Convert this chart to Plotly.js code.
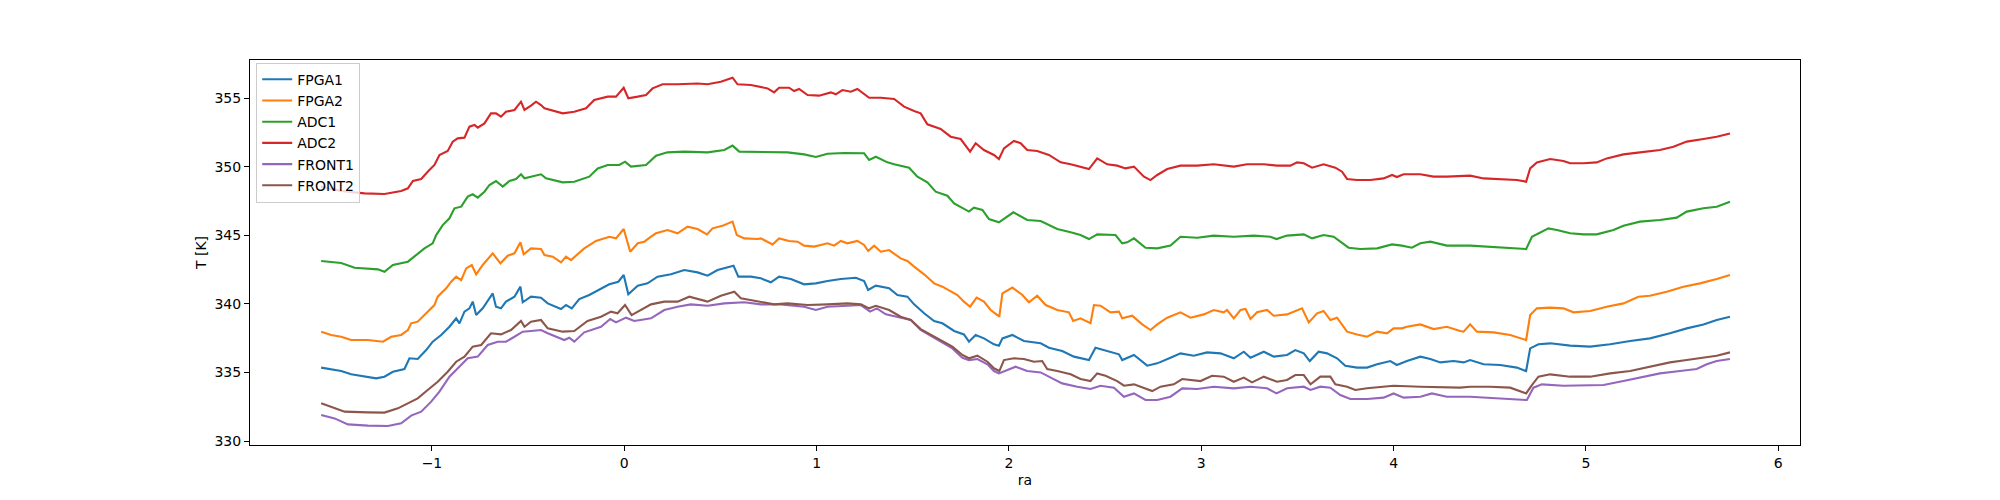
<!DOCTYPE html>
<html>
<head>
<meta charset="utf-8">
<script src="https://cdn.plot.ly/plotly-3.0.1.min.js"></script>
<style>html,body{margin:0;padding:0;background:#fff;}#chart{width:2000px;height:500px;}</style>
</head>
<body>
<div id="chart"></div>
<script>
// Series names and colours
const seriesNames = ["FPGA1", "FPGA2", "ADC1", "ADC2", "FRONT1", "FRONT2"];
const seriesColors = ["#1f77b4", "#ff7f0e", "#2ca02c", "#d62728", "#9467bd", "#8c564b"];

// [ra, T] pairs
const fpga1 = [[-1.576,335.35],[-1.524,335.25],[-1.472,335.10],[-1.420,334.86],[-1.350,334.69],[-1.290,334.57],[-1.247,334.69],[-1.203,335.05],[-1.143,335.25],[-1.117,336.03],[-1.074,335.98],[-1.030,336.63],[-0.996,337.24],[-0.952,337.73],[-0.909,338.33],[-0.874,338.94],[-0.857,338.58],[-0.831,339.43],[-0.805,339.67],[-0.788,340.16],[-0.770,339.18],[-0.736,339.67],[-0.684,340.76],[-0.667,339.79],[-0.641,339.67],[-0.615,340.16],[-0.571,340.52],[-0.540,341.25],[-0.528,340.11],[-0.485,340.52],[-0.433,340.45],[-0.398,340.03],[-0.329,339.62],[-0.303,339.91],[-0.273,339.67],[-0.234,340.35],[-0.182,340.64],[-0.130,341.01],[-0.078,341.42],[-0.031,341.61],[-0.003,342.10],[0.021,340.69],[0.070,341.32],[0.121,341.49],[0.173,341.98],[0.243,342.15],[0.312,342.46],[0.381,342.29],[0.433,342.05],[0.485,342.46],[0.568,342.78],[0.593,341.98],[0.658,341.98],[0.710,341.86],[0.762,341.57],[0.805,341.98],[0.866,341.81],[0.935,341.42],[0.996,341.49],[1.057,341.66],[1.126,341.81],[1.204,341.90],[1.247,341.66],[1.268,341.01],[1.308,341.32],[1.377,341.13],[1.420,340.64],[1.472,340.52],[1.507,339.96],[1.559,339.31],[1.611,338.75],[1.654,338.58],[1.715,338.02],[1.766,337.77],[1.792,337.24],[1.827,337.73],[1.870,337.48],[1.922,337.05],[1.948,336.95],[1.966,337.48],[2.018,337.73],[2.078,337.29],[2.165,337.12],[2.208,336.80],[2.277,336.56],[2.338,336.15],[2.416,335.90],[2.450,336.80],[2.520,336.51],[2.572,336.32],[2.589,335.90],[2.650,336.27],[2.719,335.49],[2.771,335.66],[2.840,336.07],[2.892,336.39],[2.961,336.22],[3.030,336.46],[3.100,336.39],[3.169,336.03],[3.221,336.51],[3.256,336.07],[3.325,336.51],[3.377,336.15],[3.446,336.27],[3.489,336.63],[3.533,336.39],[3.564,335.83],[3.610,336.51],[3.654,336.39],[3.706,336.03],[3.749,335.49],[3.810,335.35],[3.862,335.35],[3.914,335.59],[3.983,335.83],[4.017,335.54],[4.069,335.83],[4.139,336.15],[4.191,335.98],[4.243,335.73],[4.312,335.83],[4.364,335.73],[4.398,335.90],[4.468,335.59],[4.554,335.54],[4.641,335.35],[4.689,335.10],[4.710,336.75],[4.753,337.05],[4.814,337.12],[4.918,336.95],[5.022,336.88],[5.126,337.05],[5.230,337.29],[5.333,337.48],[5.437,337.85],[5.524,338.21],[5.611,338.50],[5.680,338.82],[5.749,339.06]];

const fpga2 = [[-1.576,337.97],[-1.524,337.73],[-1.472,337.60],[-1.420,337.36],[-1.333,337.36],[-1.255,337.24],[-1.212,337.60],[-1.160,337.73],[-1.125,338.09],[-1.108,338.58],[-1.074,338.70],[-1.030,339.31],[-0.987,339.91],[-0.970,340.52],[-0.926,341.13],[-0.900,341.61],[-0.874,341.98],[-0.848,341.73],[-0.822,342.58],[-0.793,342.83],[-0.770,342.15],[-0.736,342.83],[-0.684,343.68],[-0.644,342.95],[-0.606,343.51],[-0.571,343.68],[-0.540,344.48],[-0.523,343.61],[-0.485,344.04],[-0.433,343.99],[-0.415,343.56],[-0.372,343.44],[-0.329,343.02],[-0.303,343.44],[-0.277,343.19],[-0.208,344.04],[-0.147,344.58],[-0.078,344.89],[-0.043,344.77],[-0.003,345.45],[0.031,343.80],[0.070,344.41],[0.104,344.53],[0.139,344.89],[0.165,345.14],[0.225,345.38],[0.277,345.14],[0.329,345.62],[0.381,345.45],[0.430,345.06],[0.459,345.50],[0.511,345.69],[0.563,345.99],[0.585,345.01],[0.624,344.77],[0.693,344.72],[0.710,344.77],[0.771,344.33],[0.805,344.77],[0.857,344.58],[0.901,344.53],[0.935,344.24],[0.987,344.17],[1.057,344.41],[1.091,344.24],[1.126,344.58],[1.160,344.41],[1.212,344.58],[1.247,344.29],[1.268,343.85],[1.299,344.24],[1.334,343.80],[1.377,343.92],[1.437,343.31],[1.472,343.12],[1.507,342.71],[1.559,342.15],[1.611,341.49],[1.654,341.25],[1.732,340.64],[1.766,340.16],[1.798,339.79],[1.832,340.45],[1.870,340.16],[1.905,339.55],[1.940,339.18],[1.950,339.06],[1.966,340.76],[2.018,341.18],[2.070,340.64],[2.104,340.11],[2.147,340.59],[2.191,339.91],[2.251,339.55],[2.312,339.38],[2.334,338.75],[2.372,338.94],[2.424,338.58],[2.442,339.91],[2.476,339.86],[2.528,339.38],[2.572,339.43],[2.589,338.94],[2.641,339.13],[2.693,338.50],[2.736,338.09],[2.771,338.50],[2.823,338.99],[2.892,339.38],[2.944,338.99],[3.013,339.23],[3.065,339.55],[3.117,339.38],[3.134,339.55],[3.169,338.94],[3.204,339.55],[3.230,339.62],[3.256,338.89],[3.290,339.38],[3.342,339.55],[3.377,339.13],[3.446,339.23],[3.524,339.67],[3.559,338.65],[3.602,339.31],[3.636,339.48],[3.671,338.82],[3.706,338.99],[3.732,338.45],[3.758,337.97],[3.810,337.77],[3.862,337.60],[3.914,337.97],[3.966,337.85],[4.000,338.21],[4.043,338.21],[4.069,338.33],[4.139,338.50],[4.208,338.16],[4.277,338.33],[4.346,338.02],[4.364,337.97],[4.398,338.50],[4.433,337.97],[4.520,337.92],[4.606,337.73],[4.689,337.36],[4.710,339.18],[4.745,339.67],[4.814,339.72],[4.883,339.67],[4.935,339.38],[5.022,339.48],[5.108,339.79],[5.195,340.03],[5.273,340.52],[5.333,340.59],[5.420,340.88],[5.507,341.25],[5.593,341.49],[5.680,341.81],[5.749,342.10]];

const adc1 = [[-1.576,343.12],[-1.472,342.97],[-1.402,342.63],[-1.333,342.54],[-1.281,342.51],[-1.247,342.34],[-1.203,342.83],[-1.125,343.07],[-1.082,343.56],[-1.039,344.04],[-0.996,344.41],[-0.978,345.01],[-0.944,345.74],[-0.909,346.23],[-0.883,346.96],[-0.848,347.08],[-0.814,347.81],[-0.788,347.98],[-0.762,347.74],[-0.727,348.17],[-0.701,348.66],[-0.667,348.95],[-0.632,348.54],[-0.597,348.95],[-0.563,349.10],[-0.537,349.44],[-0.519,349.15],[-0.476,349.27],[-0.433,349.44],[-0.407,349.15],[-0.320,348.85],[-0.260,348.90],[-0.182,349.27],[-0.138,349.87],[-0.086,350.12],[-0.026,350.12],[0.004,350.36],[0.035,350.00],[0.113,350.12],[0.165,350.80],[0.225,351.04],[0.312,351.09],[0.381,351.09],[0.433,351.04],[0.520,351.21],[0.563,351.53],[0.598,351.09],[0.693,351.09],[0.849,351.04],[0.935,350.89],[0.996,350.70],[1.057,350.94],[1.143,350.99],[1.247,350.97],[1.273,350.48],[1.308,350.72],[1.368,350.31],[1.403,350.17],[1.481,349.92],[1.524,349.27],[1.576,348.85],[1.619,348.17],[1.680,347.88],[1.715,347.32],[1.749,347.08],[1.792,346.72],[1.818,347.01],[1.862,346.84],[1.896,346.18],[1.948,345.94],[2.023,346.67],[2.095,346.11],[2.165,346.04],[2.251,345.45],[2.321,345.21],[2.372,345.01],[2.416,344.72],[2.459,345.06],[2.554,345.01],[2.589,344.41],[2.615,344.48],[2.650,344.77],[2.710,344.09],[2.771,344.04],[2.840,344.24],[2.892,344.89],[2.979,344.82],[3.065,344.97],[3.169,344.89],[3.273,344.97],[3.359,344.89],[3.391,344.72],[3.446,344.97],[3.533,345.06],[3.576,344.77],[3.636,345.01],[3.688,344.89],[3.723,344.53],[3.766,344.09],[3.827,343.99],[3.914,344.04],[3.992,344.33],[4.043,344.24],[4.095,344.09],[4.139,344.41],[4.191,344.53],[4.277,344.24],[4.398,344.24],[4.502,344.16],[4.606,344.09],[4.689,343.99],[4.719,344.89],[4.753,345.14],[4.805,345.50],[4.849,345.38],[4.918,345.14],[4.987,345.06],[5.056,345.06],[5.143,345.38],[5.195,345.69],[5.281,345.99],[5.385,346.11],[5.472,346.28],[5.524,346.72],[5.611,346.96],[5.680,347.08],[5.749,347.44]];

const adc2 = [[-1.576,348.54],[-1.472,348.22],[-1.350,348.05],[-1.247,348.00],[-1.160,348.22],[-1.125,348.42],[-1.099,348.95],[-1.056,349.10],[-1.022,349.63],[-0.987,350.12],[-0.961,350.85],[-0.918,351.14],[-0.892,351.82],[-0.866,352.06],[-0.831,352.11],[-0.805,352.91],[-0.779,353.03],[-0.762,352.84],[-0.727,353.15],[-0.693,353.88],[-0.667,353.88],[-0.641,353.64],[-0.615,354.00],[-0.571,354.13],[-0.537,354.73],[-0.519,354.13],[-0.485,354.44],[-0.459,354.73],[-0.433,354.49],[-0.415,354.25],[-0.320,353.88],[-0.260,354.00],[-0.199,354.25],[-0.156,354.85],[-0.086,355.10],[-0.043,355.10],[-0.003,355.75],[0.021,354.98],[0.070,355.10],[0.113,355.22],[0.147,355.70],[0.199,356.00],[0.277,356.00],[0.381,356.06],[0.433,356.00],[0.502,356.19],[0.563,356.48],[0.589,356.00],[0.658,355.95],[0.710,355.83],[0.745,355.70],[0.779,355.41],[0.805,355.75],[0.857,355.75],[0.883,355.51],[0.909,355.66],[0.953,355.22],[1.013,355.17],[1.074,355.41],[1.100,355.27],[1.134,355.58],[1.178,355.46],[1.212,355.66],[1.273,355.02],[1.334,355.02],[1.403,354.93],[1.455,354.37],[1.507,354.05],[1.541,353.88],[1.576,353.08],[1.645,352.74],[1.697,352.18],[1.749,352.01],[1.798,351.09],[1.827,351.70],[1.870,351.21],[1.922,350.85],[1.948,350.55],[1.974,351.33],[2.026,351.87],[2.061,351.70],[2.095,351.21],[2.147,351.14],[2.208,350.85],[2.269,350.31],[2.321,350.17],[2.372,350.00],[2.416,349.82],[2.459,350.60],[2.511,350.17],[2.563,350.07],[2.606,349.87],[2.650,350.00],[2.702,349.27],[2.736,349.02],[2.771,349.39],[2.823,349.82],[2.892,350.07],[2.979,350.07],[3.065,350.17],[3.169,350.00],[3.238,350.17],[3.325,350.17],[3.394,350.07],[3.463,350.07],[3.498,350.31],[3.533,350.24],[3.576,349.92],[3.636,350.17],[3.697,349.92],[3.732,349.63],[3.758,349.10],[3.810,349.02],[3.879,349.02],[3.948,349.14],[3.992,349.39],[4.017,349.24],[4.052,349.44],[4.139,349.44],[4.208,349.27],[4.277,349.27],[4.398,349.34],[4.468,349.14],[4.572,349.10],[4.641,349.02],[4.689,348.90],[4.710,349.87],[4.745,350.31],[4.814,350.55],[4.883,350.41],[4.918,350.24],[4.987,350.24],[5.056,350.31],[5.108,350.60],[5.195,350.89],[5.281,351.04],[5.385,351.21],[5.455,351.45],[5.524,351.82],[5.611,352.01],[5.680,352.18],[5.749,352.42]];

const front1 = [[-1.576,331.90],[-1.506,331.65],[-1.437,331.21],[-1.333,331.12],[-1.229,331.09],[-1.160,331.29],[-1.108,331.85],[-1.056,332.14],[-1.004,332.87],[-0.961,333.60],[-0.909,334.69],[-0.866,335.30],[-0.814,336.03],[-0.762,336.15],[-0.710,337.00],[-0.658,337.24],[-0.615,337.24],[-0.571,337.60],[-0.528,337.97],[-0.485,338.02],[-0.433,338.09],[-0.398,337.85],[-0.312,337.36],[-0.286,337.53],[-0.260,337.24],[-0.208,337.92],[-0.121,338.33],[-0.073,338.89],[-0.043,338.65],[0.009,338.99],[0.052,338.75],[0.139,338.94],[0.208,339.55],[0.277,339.79],[0.346,339.96],[0.433,339.86],[0.520,340.03],[0.624,340.11],[0.710,339.96],[0.814,339.96],[0.935,339.79],[0.996,339.55],[1.057,339.79],[1.160,339.86],[1.230,339.91],[1.278,339.43],[1.313,339.67],[1.360,339.23],[1.437,338.99],[1.490,338.82],[1.541,338.09],[1.593,337.68],[1.645,337.24],[1.706,336.75],[1.758,336.07],[1.792,335.90],[1.836,335.98],[1.888,335.59],[1.922,335.10],[1.948,334.93],[1.992,335.17],[2.035,335.42],[2.095,335.10],[2.165,335.00],[2.225,334.57],[2.277,334.20],[2.355,333.96],[2.424,333.79],[2.476,334.03],[2.546,333.89],[2.598,333.23],[2.650,333.47],[2.710,332.99],[2.771,332.99],[2.840,333.23],[2.901,333.84],[2.979,333.79],[3.065,333.96],[3.169,333.84],[3.256,333.96],[3.342,333.84],[3.391,333.47],[3.446,333.84],[3.533,333.96],[3.568,333.72],[3.619,333.96],[3.671,333.89],[3.723,333.35],[3.775,333.06],[3.862,333.06],[3.948,333.16],[4.000,333.47],[4.052,333.16],[4.139,333.23],[4.199,333.47],[4.277,333.23],[4.398,333.23],[4.502,333.16],[4.606,333.06],[4.693,332.99],[4.727,333.89],[4.771,334.13],[4.883,334.03],[4.987,334.03],[5.091,334.08],[5.195,334.37],[5.299,334.69],[5.385,334.93],[5.489,335.10],[5.576,335.25],[5.628,335.59],[5.680,335.83],[5.749,335.98]];

const front2 = [[-1.576,332.75],[-1.506,332.43],[-1.454,332.14],[-1.333,332.09],[-1.247,332.07],[-1.177,332.38],[-1.125,332.75],[-1.074,333.11],[-1.022,333.72],[-0.970,334.32],[-0.918,335.05],[-0.874,335.78],[-0.831,336.15],[-0.788,336.88],[-0.744,337.00],[-0.693,337.85],[-0.641,337.77],[-0.589,338.09],[-0.537,338.75],[-0.519,338.33],[-0.485,338.70],[-0.433,338.82],[-0.398,338.21],[-0.320,337.97],[-0.260,338.02],[-0.191,338.75],[-0.121,339.06],[-0.069,339.43],[-0.035,339.31],[0.004,339.91],[0.038,339.18],[0.087,339.55],[0.139,339.96],[0.208,340.16],[0.277,340.16],[0.338,340.52],[0.433,340.16],[0.502,340.59],[0.572,340.88],[0.606,340.40],[0.693,340.20],[0.779,339.96],[0.849,340.03],[0.953,339.91],[1.057,339.96],[1.160,340.03],[1.230,339.96],[1.273,339.67],[1.308,339.86],[1.377,339.55],[1.437,339.06],[1.490,338.82],[1.541,338.16],[1.593,337.77],[1.645,337.36],[1.706,336.88],[1.758,336.27],[1.792,336.03],[1.836,336.22],[1.888,335.78],[1.922,335.30],[1.950,335.10],[1.974,335.90],[2.026,336.03],[2.078,335.98],[2.130,335.78],[2.173,335.83],[2.199,335.25],[2.251,335.10],[2.321,334.86],[2.372,334.52],[2.424,334.37],[2.459,334.93],[2.502,334.76],[2.563,334.37],[2.598,334.03],[2.650,334.13],[2.702,333.84],[2.745,333.64],[2.788,333.96],[2.857,334.13],[2.901,334.52],[2.944,334.45],[2.996,334.37],[3.056,334.76],[3.117,334.69],[3.169,334.32],[3.221,334.62],[3.264,334.27],[3.325,334.69],[3.394,334.32],[3.446,334.45],[3.489,334.81],[3.533,334.81],[3.568,334.13],[3.619,334.69],[3.671,334.69],[3.697,334.13],[3.758,333.96],[3.801,333.72],[3.862,333.84],[4.000,334.03],[4.139,333.96],[4.346,333.89],[4.398,333.96],[4.502,333.96],[4.606,333.89],[4.689,333.47],[4.719,334.08],[4.753,334.69],[4.814,334.86],[4.918,334.69],[5.022,334.69],[5.126,334.93],[5.230,335.10],[5.333,335.42],[5.437,335.73],[5.524,335.90],[5.611,336.07],[5.680,336.22],[5.749,336.46]];

// Tick labels
const xTickVals = [-1, 0, 1, 2, 3, 4, 5, 6];
const xTickText = ["\u22121", "0", "1", "2", "3", "4", "5", "6"];
const yTickVals = [330, 335, 340, 345, 350, 355];
const yTickText = ["330", "335", "340", "345", "350", "355"];

const allSeries = [fpga1, fpga2, adc1, adc2, front1, front2];

const traces = allSeries.map((s, i) => ({
  type: "scatter",
  mode: "lines",
  name: seriesNames[i],
  x: s.map(p => p[0]),
  y: s.map(p => p[1]),
  line: { color: seriesColors[i], width: 2.1 }
}));

const font = { family: "DejaVu Sans, sans-serif", size: 14, color: "#000" };

const layout = {
  width: 2000,
  height: 500,
  margin: { l: 250, r: 200, t: 60, b: 55 },
  paper_bgcolor: "#fff",
  plot_bgcolor: "#fff",
  font: font,
  showlegend: true,
  legend: {
    x: 0.004, y: 0.993, xanchor: "left", yanchor: "top",
    bgcolor: "rgba(255,255,255,0.8)",
    bordercolor: "#cccccc", borderwidth: 1,
    font: font,
    itemwidth: 30
  },
  xaxis: {
    range: [-1.946, 6.113],
    tickmode: "array", tickvals: xTickVals, ticktext: xTickText,
    ticks: "outside", ticklen: 5, tickwidth: 1, tickcolor: "#000",
    showline: true, mirror: true, linecolor: "#000", linewidth: 1,
    showgrid: false, zeroline: false,
    title: { text: "ra", font: font, standoff: 5 },
    automargin: false
  },
  yaxis: {
    range: [329.71, 357.77],
    tickmode: "array", tickvals: yTickVals, ticktext: yTickText,
    ticks: "outside", ticklen: 5, tickwidth: 1, tickcolor: "#000",
    showline: true, mirror: true, linecolor: "#000", linewidth: 1,
    showgrid: false, zeroline: false,
    title: { text: "T [K]", font: font, standoff: 4 },
    automargin: false
  }
};

Plotly.newPlot("chart", traces, layout, { displayModeBar: false, staticPlot: true });
</script>
</body>
</html>
